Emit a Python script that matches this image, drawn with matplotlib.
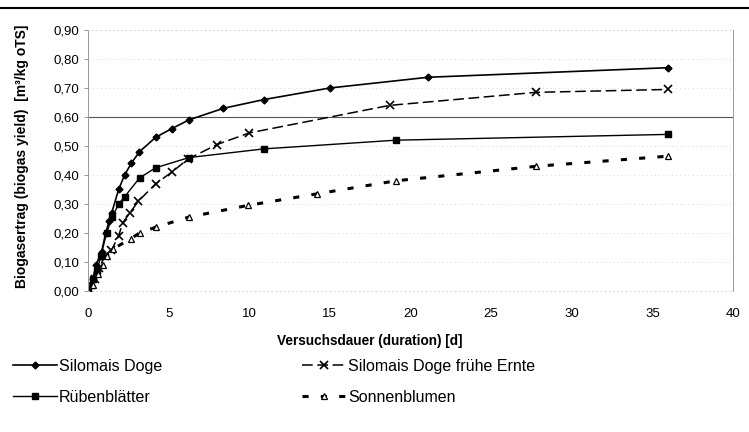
import matplotlib
matplotlib.use("Agg")
import matplotlib.pyplot as plt
from matplotlib.lines import Line2D

plt.rcParams['font.family'] = ['Liberation Sans', 'DejaVu Sans']

# Data (days, m3/kg oTS)
sd_x = [0.0, 0.3, 0.5, 0.84, 1.1, 1.3, 1.47, 1.9, 2.27, 2.68, 3.19, 4.2, 5.2, 6.26, 8.4, 10.9, 15.0, 21.1, 36.0]
sd_y = [0.00, 0.04, 0.09, 0.135, 0.20, 0.24, 0.27, 0.35, 0.40, 0.44, 0.48, 0.53, 0.56, 0.59, 0.63, 0.66, 0.70, 0.737, 0.77]

fe_x = [0.0, 0.2, 0.43, 0.7, 1.04, 1.45, 1.9, 2.15, 2.6, 3.13, 4.2, 5.2, 6.2, 8.0, 10.0, 18.7, 27.8, 36.0]
fe_y = [0.00, 0.02, 0.04, 0.08, 0.12, 0.14, 0.19, 0.235, 0.27, 0.31, 0.37, 0.41, 0.455, 0.505, 0.545, 0.64, 0.685, 0.695]

rb_x = [0.0, 0.3, 0.55, 0.8, 1.15, 1.5, 1.9, 2.27, 3.2, 4.2, 6.26, 10.9, 19.1, 36.0]
rb_y = [0.00, 0.04, 0.07, 0.12, 0.20, 0.255, 0.30, 0.325, 0.39, 0.425, 0.46, 0.49, 0.52, 0.54]

sb_x = [0.0, 0.3, 0.6, 0.9, 1.15, 1.55, 2.64, 3.2, 4.2, 6.26, 9.9, 14.2, 19.1, 27.8, 36.0]
sb_y = [0.00, 0.02, 0.06, 0.09, 0.12, 0.145, 0.18, 0.20, 0.22, 0.255, 0.295, 0.335, 0.38, 0.43, 0.465]

yticks = [0.0, 0.1, 0.2, 0.3, 0.4, 0.5, 0.6, 0.7, 0.8, 0.9]
xticks = [0, 5, 10, 15, 20, 25, 30, 35, 40]

fig = plt.figure(figsize=(7.49, 4.32), dpi=100)
ax = fig.add_axes([0.1175, 0.3264, 0.8611, 0.6042])

# faint grid
for yv in yticks[1:]:
    if abs(yv - 0.6) < 1e-9:
        ax.axhline(yv, color='#555555', lw=0.8, zorder=0)
    else:
        ax.axhline(yv, color='#c8c8c8', lw=0.6, ls=(0, (1, 4)), zorder=0)

l_sd, = ax.plot(sd_x, sd_y, color='black', lw=1.2, marker='D', ms=3.5, label='Silomais Doge')
l_fe, = ax.plot(fe_x, fe_y, color='black', lw=1.1, ls=(0, (7, 3)), marker='x', ms=5.5, mew=1.2,
                label='Silomais Doge frühe Ernte')
l_rb, = ax.plot(rb_x, rb_y, color='black', lw=1.0, marker='s', ms=4.5, label='Rübenblätter')
l_sb, = ax.plot(sb_x, sb_y, color='black', lw=2.2, ls=(0, (2.0, 4.0)), marker='^', ms=4.5,
                mfc='white', mew=0.9, label='Sonnenblumen')

ax.set_xlim(0, 40)
ax.set_ylim(0, 0.9)
ax.set_xticks(xticks)
ax.set_yticks(yticks)
ax.set_yticklabels([f"{v:.2f}".replace('.', ',') for v in yticks])
ax.tick_params(axis='both', labelsize=9.5, length=3, color='#888888', width=0.6)
ax.tick_params(axis='x', length=0, pad=12)

for s in ['top', 'bottom']:
    ax.spines[s].set_color('#cccccc')
    ax.spines[s].set_linestyle((0, (1, 4)))
    ax.spines[s].set_linewidth(0.6)
ax.spines['left'].set_color('#999999')
ax.spines['left'].set_linewidth(0.7)
ax.spines['right'].set_color('#999999')
ax.spines['right'].set_linewidth(0.7)

ax.set_xlabel('Versuchsdauer (duration) [d]', fontsize=9.8, fontweight='bold')
ax.set_ylabel('Biogasertrag (biogas yield)  [m³/kg oTS]', fontsize=10, fontweight='bold')
ax.xaxis.set_label_coords(0.437, -0.165)
ax.yaxis.set_label_coords(-0.0915, 0.517)

# top border line
fig.add_artist(Line2D([0, 1], [0.981, 0.981], color='black', lw=1.5, transform=fig.transFigure))

leg_kw = dict(loc='center left', ncol=1, frameon=False, fontsize=11.5, handlelength=2.8,
              handletextpad=0.1, labelspacing=1.0, borderaxespad=0, borderpad=0)
fig.legend(handles=[l_sd, l_rb], bbox_to_anchor=(0.017, 0.116), **leg_kw)
fig.legend(handles=[l_fe, l_sb], bbox_to_anchor=(0.403, 0.116), **leg_kw)

fig.savefig('out.png', dpi=100)
